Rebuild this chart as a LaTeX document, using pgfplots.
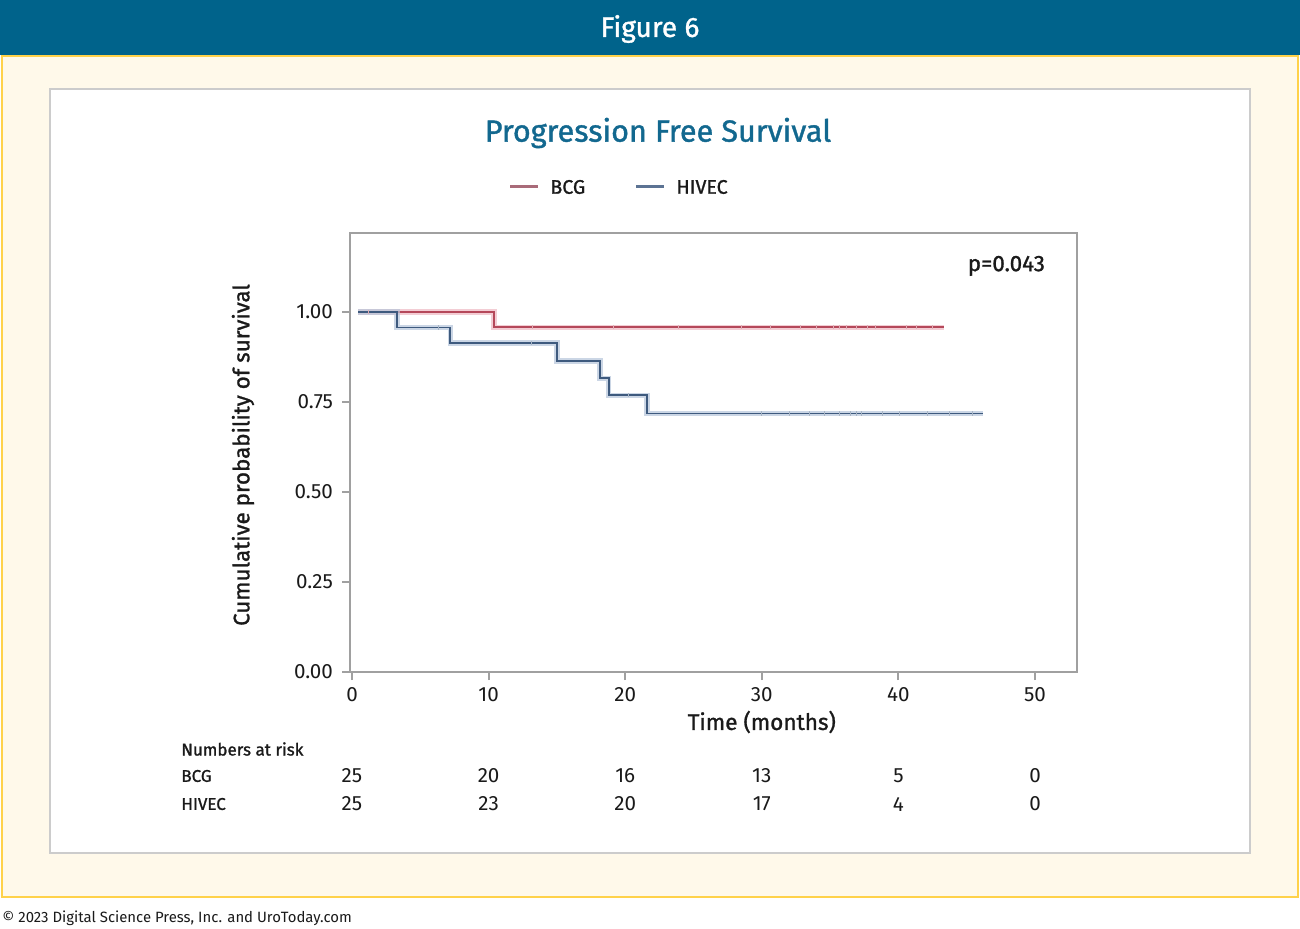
\documentclass[border=0pt]{standalone}
\usepackage{fontspec}
\setmainfont{Fira Sans}
\newfontfamily\medfont[FakeBold=1.2]{Fira Sans}
\usepackage{pgfplots}
\pgfplotsset{compat=1.18}
\definecolor{header}{HTML}{00638B}
\definecolor{titleblue}{HTML}{12688F}
\definecolor{cream}{HTML}{FFF9EA}
\definecolor{ylw}{HTML}{FFD24A}
\definecolor{panelgray}{HTML}{CCCCCC}
\definecolor{axgray}{HTML}{A0A0A0}
\definecolor{bcg}{HTML}{B5485A}
\definecolor{bcghalo}{HTML}{EFB8C2}
\definecolor{hiv}{HTML}{3E5A7E}
\definecolor{hivhalo}{HTML}{B5C6DA}
\definecolor{bcgleg}{HTML}{A96B79}
\definecolor{hivleg}{HTML}{5C7393}
\definecolor{txt}{HTML}{1A1A1A}

\begin{document}
\begin{tikzpicture}
\path[fill=white] (0,0) rectangle (650pt,-464.5pt);
\fill[header] (0,0) rectangle (650pt,-27.5pt);
\node[white, font=\fontsize{14}{16}\selectfont\medfont] at (325pt,-14.5pt) {Figure 6};
\draw[ylw, fill=cream, line width=1pt] (1pt,-28pt) rectangle (649pt,-448.5pt);
\draw[panelgray, fill=white, line width=1pt] (25pt,-44.5pt) rectangle (625pt,-426.5pt);
\node[titleblue, font=\fontsize{15.3}{18}\selectfont\medfont] at (329pt,-66.5pt) {Progression Free Survival};
% legend
\draw[bcgleg, line width=1.5pt] (255pt,-93.5pt) -- (269pt,-93.5pt);
\node[anchor=west, inner sep=0pt, txt, font=\fontsize{9.8}{11}\selectfont\medfont] at (275pt,-93.5pt) {BCG};
\draw[hivleg, line width=1.5pt] (318pt,-93.5pt) -- (332pt,-93.5pt);
\node[anchor=west, inner sep=0pt, txt, font=\fontsize{9.8}{11}\selectfont\medfont] at (338pt,-93.5pt) {HIVEC};
\node[anchor=west, inner sep=0pt, txt, font=\fontsize{7.45}{9}\selectfont] at (1pt,-459pt) {\textcopyright{} 2023 Digital Science Press, Inc. and UroToday.com};

\begin{axis}[
  at={(175pt,-336pt)}, anchor=south west,
  width=363.5pt, height=219.5pt, scale only axis,
  xmin=-0.146, xmax=53.07, ymin=0, ymax=1.2194,
  clip=false,
  axis line style={axgray, line width=1pt},
  tick style={axgray, line width=1pt},
  tick align=outside, major tick length=4pt,
  xtick pos=bottom, ytick pos=left,
  xtick={0,10,20,30,40,50},
  ytick={0,0.25,0.5,0.75,1},
  yticklabel style={/pgf/number format/fixed, /pgf/number format/fixed zerofill, /pgf/number format/precision=2, xshift=-1pt},
  xticklabel style={/pgf/number format/fixed},
  /pgf/number format/assume math mode=true,
  ticklabel style={font=\fontsize{10.3}{12}\selectfont, text=txt},
]
% BCG
\addplot[const plot, bcghalo, line width=2.6pt, opacity=0.7] coordinates {(0.44,1) (10.4,0.958) (43.3,0.958)};
\addplot[const plot, bcg, line width=0.9pt] coordinates {(0.44,1) (10.4,0.958) (43.3,0.958)};
\addplot[only marks, mark=|, mark size=1.1pt, bcg!45, mark options={line width=0.35pt}] coordinates {
(1.2,1) (13.2,0.958) (19.1,0.958) (23.9,0.958) (28.5,0.958) (30.6,0.958) (32.8,0.958) (34.0,0.958) (35.2,0.958) (35.7,0.958) (36.2,0.958) (36.9,0.958) (37.7,0.958) (38.3,0.958) (40.6,0.958) (41.3,0.958) (42.5,0.958)};
% HIVEC
\addplot[const plot, hivhalo, line width=2.6pt, opacity=0.7] coordinates {(0.44,1) (3.3,0.957) (7.2,0.914) (15.0,0.864) (18.15,0.816) (18.8,0.769) (21.6,0.718) (46.2,0.718)};
\addplot[const plot, hiv, line width=0.9pt] coordinates {(0.44,1) (3.3,0.957) (7.2,0.914) (15.0,0.864) (18.15,0.816) (18.8,0.769) (21.6,0.718) (46.2,0.718)};
\addplot[only marks, mark=|, mark size=1.1pt, hiv!45, mark options={line width=0.35pt}] coordinates {
(6.3,0.957) (13.1,0.914) (20.2,0.769) (30.0,0.718) (32.0,0.718) (33.5,0.718) (34.6,0.718) (35.7,0.718) (36.5,0.718) (36.9,0.718) (37.3,0.718) (38.8,0.718) (40.1,0.718) (42.1,0.718) (43.7,0.718) (45.4,0.718)};

\node[txt, font=\fontsize{11.2}{13}\selectfont\medfont] at (axis cs:47.9,1.128) {p=0.043};
\node[txt, font=\fontsize{11.3}{13}\selectfont\medfont] at (axis cs:30,-0.1389) {Time (months)};
\node[txt, rotate=90, font=\fontsize{11.2}{13}\selectfont\medfont] at (axis cs:-7.98,0.6028) {Cumulative probability of survival};
% numbers at risk
\node[anchor=west, inner sep=0pt, txt, font=\fontsize{8.5}{10}\selectfont\medfont] at (axis cs:-12.52,-0.2139) {Numbers at risk};
\node[anchor=west, inner sep=0pt, txt, font=\fontsize{8.5}{10}\selectfont\medfont] at (axis cs:-12.52,-0.2889) {BCG};
\node[anchor=west, inner sep=0pt, txt, font=\fontsize{8.5}{10}\selectfont\medfont] at (axis cs:-12.52,-0.3667) {HIVEC};
\node[txt, font=\fontsize{10.3}{12}\selectfont] at (axis cs:0,-0.2889) {25};
\node[txt, font=\fontsize{10.3}{12}\selectfont] at (axis cs:10,-0.2889) {20};
\node[txt, font=\fontsize{10.3}{12}\selectfont] at (axis cs:20,-0.2889) {16};
\node[txt, font=\fontsize{10.3}{12}\selectfont] at (axis cs:30,-0.2889) {13};
\node[txt, font=\fontsize{10.3}{12}\selectfont] at (axis cs:40,-0.2889) {5};
\node[txt, font=\fontsize{10.3}{12}\selectfont] at (axis cs:50,-0.2889) {0};
\node[txt, font=\fontsize{10.3}{12}\selectfont] at (axis cs:0,-0.3667) {25};
\node[txt, font=\fontsize{10.3}{12}\selectfont] at (axis cs:10,-0.3667) {23};
\node[txt, font=\fontsize{10.3}{12}\selectfont] at (axis cs:20,-0.3667) {20};
\node[txt, font=\fontsize{10.3}{12}\selectfont] at (axis cs:30,-0.3667) {17};
\node[txt, font=\fontsize{10.3}{12}\selectfont] at (axis cs:40,-0.3667) {4};
\node[txt, font=\fontsize{10.3}{12}\selectfont] at (axis cs:50,-0.3667) {0};
\end{axis}
\end{tikzpicture}
\end{document}
